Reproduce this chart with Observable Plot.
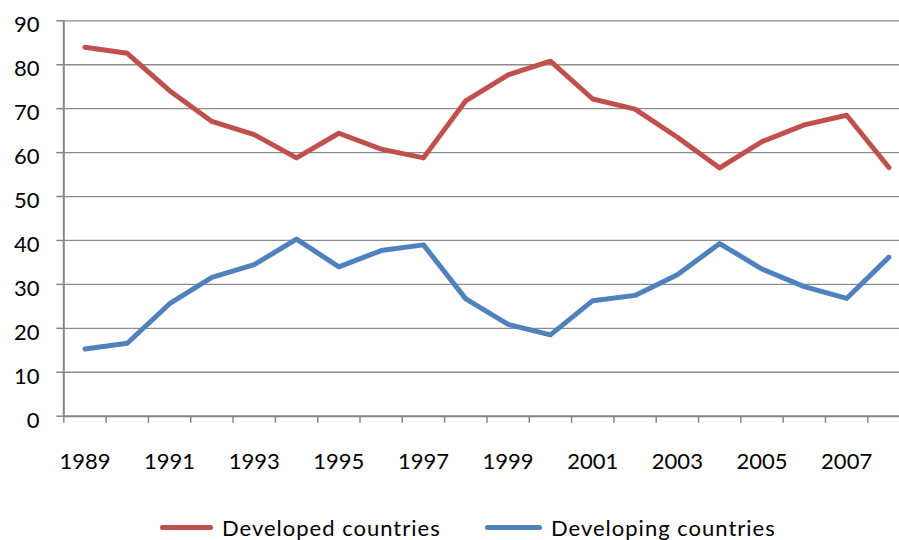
<!DOCTYPE html>
<html>
<head>
<meta charset="utf-8">
<script src="https://cdn.jsdelivr.net/npm/d3@7"></script>
<script src="https://cdn.jsdelivr.net/npm/@observablehq/plot@0.6"></script>
<style>
  html, body { margin: 0; padding: 0; background: #fff; }
  body { width: 899px; height: 540px; overflow: hidden; font-family: Lato, "Open Sans", sans-serif; }
  #chart svg { display: block; }
  #legend { position: relative; height: 40px; font-size: 22px; line-height: 22px; color: #000; letter-spacing: 1px; }
  .item { position: absolute; top: 16.5px; display: flex; align-items: center; white-space: nowrap; }
  .sw { height: 5px; border-radius: 3px; margin-right: 9px; }
</style>
</head>
<body>
<div id="chart"></div>
<div id="legend"></div>
<script>
const years = [1989,1990,1991,1992,1993,1994,1995,1996,1997,1998,1999,2000,2001,2002,2003,2004,2005,2006,2007,2008];
const developed = [84.0,82.6,74.1,67.1,64.1,58.8,64.4,60.8,58.8,71.8,77.7,80.8,72.2,69.9,63.5,56.5,62.5,66.3,68.5,56.6];
const developing = [15.3,16.6,25.6,31.6,34.5,40.3,34.0,37.7,39.0,26.7,20.9,18.5,26.3,27.5,32.2,39.3,33.5,29.5,26.8,36.2];
const seriesNames = ["Developed countries", "Developing countries"];
const seriesColors = ["#C0504D", "#4F81BD"];
const yTicks = [0,10,20,30,40,50,60,70,80,90];
const xLabelYears = [1989,1991,1993,1995,1997,1999,2001,2003,2005,2007];

const data = [];
years.forEach((yr, i) => {
  data.push({year: yr, value: developed[i], series: seriesNames[0]});
  data.push({year: yr, value: developing[i], series: seriesNames[1]});
});
const boundaries = years.map(y => y - 0.5).concat([years[years.length - 1] + 0.5]);

const W = 899, H = 500;
const plot = Plot.plot({
  width: W,
  height: H,
  marginTop: 20.3,
  marginBottom: H - 415.7,
  marginLeft: 63.3,
  marginRight: 0,
  style: {fontFamily: "Lato, 'Open Sans', sans-serif", background: "#fff", color: "#000"},
  x: {domain: [1988.5, 2008.5], range: [63.3, 909.6], axis: null, label: null},
  y: {domain: [0, 90], axis: null, label: null},
  color: {domain: seriesNames, range: seriesColors},
  marks: [
    Plot.ruleY(yTicks.filter(d => d > 0), {x1: 1988.5, x2: 2008.5, stroke: "#8c8c8c", strokeWidth: 1.3}),
    Plot.axisY(yTicks, {label: null, tickSize: 7, tickFormat: () => "", stroke: "#868686", strokeWidth: 1.5}),
    Plot.axisY(yTicks, {label: null, tickSize: 0, tickPadding: 24.3, fontSize: 22, dy: 4.5, fill: "#000"}),
    Plot.axisX(boundaries, {label: null, tickSize: 7, tickFormat: () => "", stroke: "#868686", strokeWidth: 1.5}),
    Plot.axisX(xLabelYears, {label: null, tickSize: 0, tickPadding: 37, fontSize: 22, tickFormat: d => String(d), fill: "#000", style: {letterSpacing: "0.8px"}}),
    Plot.ruleY([0], {x1: 1988.5, x2: 2008.5, stroke: "#868686", strokeWidth: 2}),
    Plot.ruleX([1988.5], {y1: 0, y2: 90, stroke: "#868686", strokeWidth: 2}),
    Plot.line(data, {x: "year", y: "value", z: "series", stroke: "series", strokeWidth: 5, strokeLinecap: "round", strokeLinejoin: "round"})
  ]
});
document.getElementById("chart").appendChild(plot);

const legend = document.getElementById("legend");
const legendLeft = [160, 485];
const swatchW = [53, 57];
seriesNames.forEach((name, i) => {
  const it = document.createElement("div");
  it.className = "item";
  it.style.left = legendLeft[i] + "px";
  const sw = document.createElement("span");
  sw.className = "sw";
  sw.style.width = swatchW[i] + "px";
  sw.style.background = seriesColors[i];
  const tx = document.createElement("span");
  tx.textContent = name;
  it.appendChild(sw);
  it.appendChild(tx);
  legend.appendChild(it);
});
</script>
</body>
</html>
